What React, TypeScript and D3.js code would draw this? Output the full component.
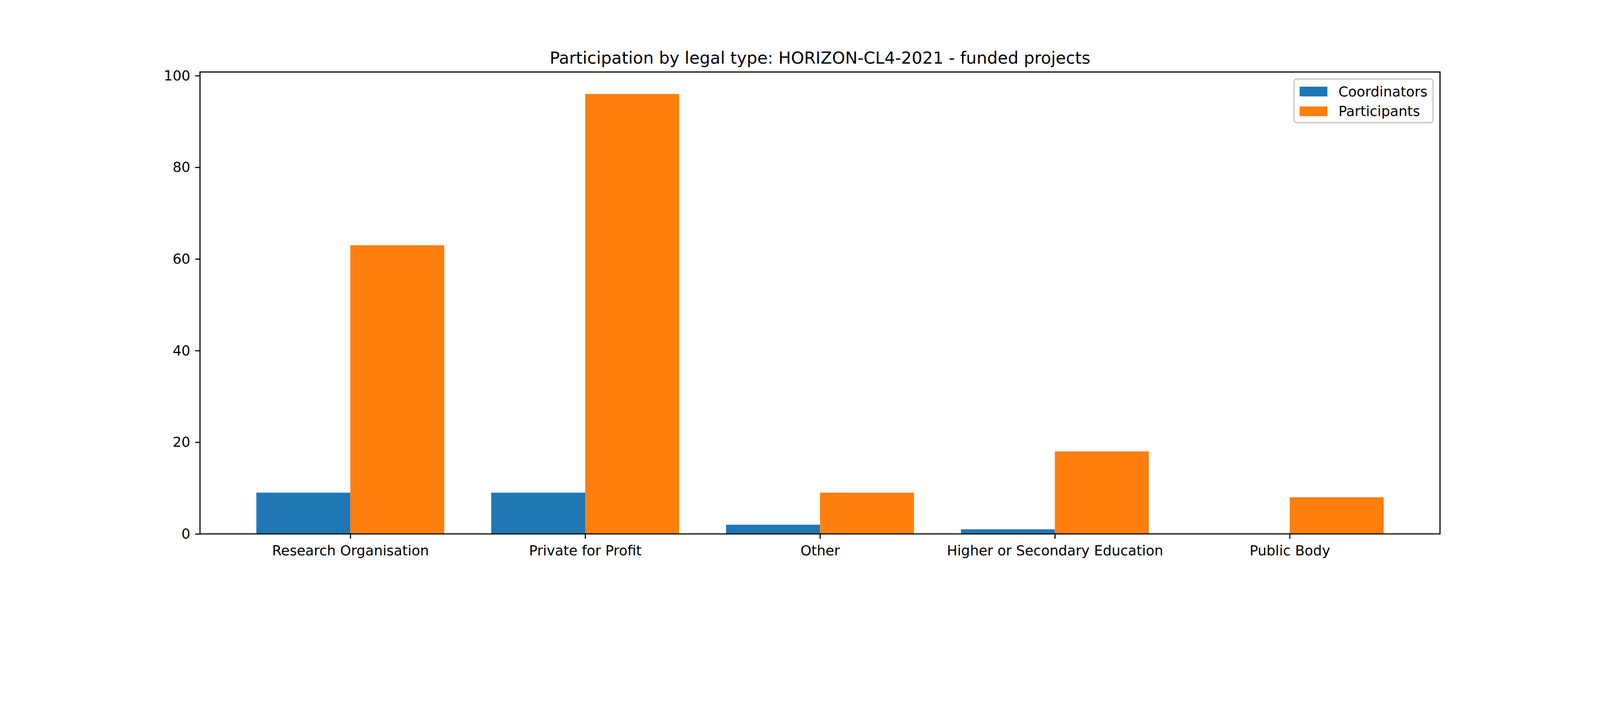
import { useEffect, useRef } from "react";
import * as d3 from "d3";

const CATEGORIES = [
  "Research Organisation",
  "Private for Profit",
  "Other",
  "Higher or Secondary Education",
  "Public Body",
];
const COORDINATORS = [9, 9, 2, 1, 0];
const PARTICIPANTS = [63, 96, 9, 18, 8];
const Y_TICKS = [0, 20, 40, 60, 80, 100];
const SERIES = [
  { name: "Coordinators", values: COORDINATORS, color: "#1f77b4", offset: -0.4 },
  { name: "Participants", values: PARTICIPANTS, color: "#ff7f0e", offset: 0 },
];

const W = 4800;
const H = 1800;
const PT = 300 / 72;

export default function App() {
  const svgRef = useRef<SVGSVGElement>(null);

  useEffect(() => {
    document.body.style.margin = "0";
    document.body.style.overflow = "hidden";
    const svg = d3.select(svgRef.current);
    svg.selectAll("*").remove();

    const mg = { l: 600, r: 4320, t: 216, b: 1602 };
    const barW = 0.4;
    const xMin = -0.4, xMax = CATEGORIES.length - 1 + 0.4;
    const xPad = (xMax - xMin) * 0.05;
    const yMax = d3.max(PARTICIPANTS)! * 1.05;

    const xS = d3.scaleLinear().domain([xMin - xPad, xMax + xPad]).range([mg.l, mg.r]);
    const yS = d3.scaleLinear().domain([0, yMax]).range([mg.b, mg.t]);

    const font = "'DejaVu Sans', sans-serif";
    const fs = 10 * PT;

    svg.append("rect").attr("width", W).attr("height", H).attr("fill", "#fff");

    // bars
    SERIES.forEach(s => {
      svg.append("g").selectAll("rect").data(s.values).join("rect")
        .attr("x", (_, i) => xS(i + s.offset))
        .attr("width", xS(barW) - xS(0))
        .attr("y", d => yS(d))
        .attr("height", d => yS(0) - yS(d))
        .attr("fill", s.color);
    });

    const tickLen = 3.5 * PT;
    const lw = 0.8 * PT;

    // y axis
    const yAxis = d3.axisLeft(yS).tickValues(Y_TICKS).tickSize(tickLen).tickPadding(3.5 * PT);
    svg.append("g").attr("transform", `translate(${mg.l},0)`).call(yAxis)
      .call(g => {
        g.select(".domain").remove();
        g.selectAll("line").attr("stroke", "#000").attr("stroke-width", lw);
        g.selectAll("text").attr("fill", "#000").attr("font-size", fs).attr("font-family", font);
      });

    // x axis
    const xAxis = d3.axisBottom(xS).tickValues(CATEGORIES.map((_, i) => i))
      .tickFormat((_, i) => CATEGORIES[i]).tickSize(tickLen).tickPadding(3.5 * PT + 6);
    svg.append("g").attr("transform", `translate(0,${mg.b})`).call(xAxis)
      .call(g => {
        g.select(".domain").remove();
        g.selectAll("line").attr("stroke", "#000").attr("stroke-width", lw);
        g.selectAll("text").attr("fill", "#000").attr("font-size", fs).attr("font-family", font);
      });

    // spines
    svg.append("rect").attr("x", mg.l).attr("y", mg.t)
      .attr("width", mg.r - mg.l).attr("height", mg.b - mg.t)
      .attr("fill", "none").attr("stroke", "#000").attr("stroke-width", lw);

    // title
    svg.append("text").attr("x", (mg.l + mg.r) / 2).attr("y", mg.t - 6 * PT)
      .attr("text-anchor", "middle").attr("font-size", 12 * PT).attr("font-family", font)
      .attr("fill", "#000").text("Participation by legal type: HORIZON-CL4-2021 - funded projects");

    // legend
    const pad = 0.5 * fs, bp = 0.4 * fs, hl = 2 * fs, hh = 0.7 * fs, htp = 0.8 * fs, ls = 0.5 * fs;
    const rowH = 38.4;
    const lg = svg.append("g");
    const frame = lg.append("rect").attr("fill", "#fff").attr("fill-opacity", 0.8)
      .attr("stroke", "#cccccc").attr("stroke-width", PT).attr("rx", 0.2 * fs);
    const items = SERIES.map((s, i) => {
      const gi = lg.append("g");
      const cy = bp + rowH / 2 + i * (rowH + ls);
      gi.append("rect").attr("x", bp).attr("y", cy - hh / 2 + 2).attr("width", hl).attr("height", hh).attr("fill", s.color);
      const t = gi.append("text").attr("x", bp + hl + htp).attr("y", cy + 2).attr("dy", "0.35em")
        .attr("font-size", fs).attr("font-family", font).attr("fill", "#000").text(s.name);
      return t;
    });
    const tw = d3.max(items, t => (t.node() as SVGTextElement).getComputedTextLength())!;
    const lw2 = bp * 2 + hl + htp + tw;
    const lh = bp * 2 + rowH * 2 + ls;
    frame.attr("width", lw2).attr("height", lh);
    lg.attr("transform", `translate(${mg.r - pad - lw2},${mg.t + pad})`);
  }, []);

  return (
    <svg ref={svgRef} viewBox={`0 0 ${W} ${H}`} preserveAspectRatio="xMidYMin meet"
      style={{ position: "absolute", left: 0, top: 0, width: "100vw", height: "100vh", display: "block" }} />
  );
}
